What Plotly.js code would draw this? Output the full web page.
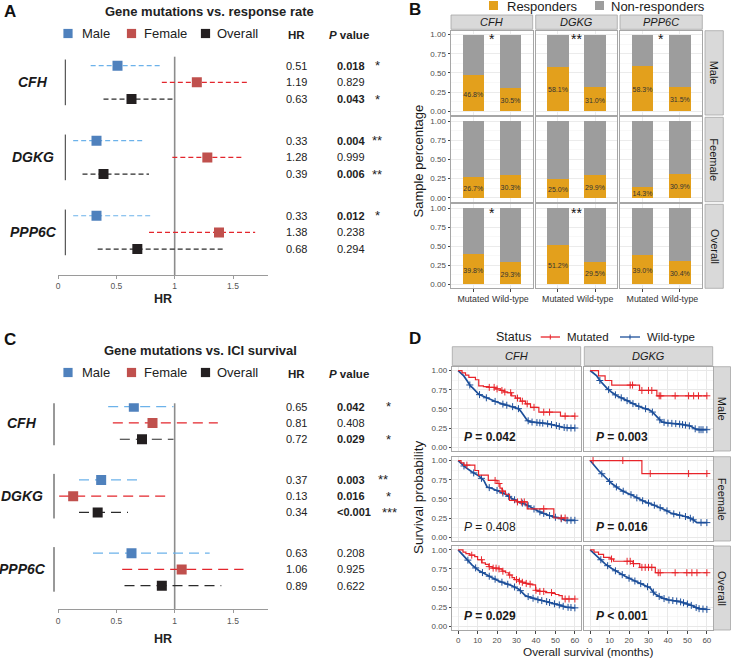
<!DOCTYPE html>
<html><head><meta charset="utf-8">
<script src="https://cdn.plot.ly/plotly-3.0.1.min.js"></script>
<style>html,body{margin:0;padding:0;background:#fff;}#chart{width:731px;height:658px;}</style>
</head><body><div id="chart"></div>
<script>
// ================= DATA =================
const forestGenes = ['CFH', 'DGKG', 'PPP6C'];
const forestGroups = ['Male', 'Female', 'Overall'];

// Panel A: gene mutations vs. response rate (order: CFH M/F/O, DGKG M/F/O, PPP6C M/F/O)
const respHR   = [0.51, 1.19, 0.63, 0.33, 1.28, 0.39, 0.33, 1.38, 0.68];
const respLow  = [0.28, 0.89, 0.39, 0.13, 0.98, 0.21, 0.13, 0.78, 0.34];
const respHigh = [0.89, 1.62, 1.00, 0.74, 1.59, 0.78, 0.81, 1.69, 1.42];
const respP    = ['0.018', '0.829', '0.043', '0.004', '0.999', '0.006', '0.012', '0.238', '0.294'];
const respSig  = ['*', '', '*', '**', '', '**', '*', '', ''];

// Panel C: gene mutations vs. ICI survival
const survHR   = [0.65, 0.81, 0.72, 0.37, 0.13, 0.34, 0.63, 1.06, 0.89];
const survLow  = [0.43, 0.47, 0.53, 0.18, 0.01, 0.18, 0.30, 0.55, 0.57];
const survHigh = [0.99, 1.37, 0.99, 0.68, 0.92, 0.60, 1.30, 1.59, 1.40];
const survP    = ['0.042', '0.408', '0.029', '0.003', '0.016', '<0.001', '0.208', '0.925', '0.622'];
const survSig  = ['*', '', '*', '**', '*', '***', '', '', ''];

// Panel B: responder percentage (Mutated, Wild-type) per gene
const bGenes = ['CFH', 'DGKG', 'PPP6C'];
const bRows = ['Male', 'Feemale', 'Overall'];
const bCats = ['Mutated', 'Wild-type'];
const respPctMale    = [[46.8, 30.5], [58.1, 31.0], [58.3, 31.5]];
const respPctFemale  = [[26.7, 30.3], [25.0, 29.9], [14.3, 30.9]];
const respPctOverall = [[39.8, 29.3], [51.2, 29.5], [39.0, 30.4]];
const bSigMale    = ['*', '**', '*'];
const bSigFemale  = ['', '', ''];
const bSigOverall = ['*', '**', ''];

// Panel D: Kaplan-Meier curves (months, survival probability, censor times)
const cfhMaleMutT = [0, 2, 3.8, 5.5, 8.9, 10.6, 13, 15.8, 19, 21.8, 23.5, 25.2, 27.5, 29.5, 32, 34.6, 37.2, 41.5, 52.6, 60];
const cfhMaleMutS = [1, 0.97, 0.94, 0.91, 0.88, 0.80, 0.79, 0.78, 0.76, 0.74, 0.72, 0.71, 0.67, 0.64, 0.60, 0.565, 0.52, 0.457, 0.405, 0.405];
const cfhMaleMutC = [16, 18.5, 20, 22.5, 24, 27, 30.5, 33, 35.5, 39, 44, 47, 55, 60];
const cfhMaleWtT = [0, 1.5, 2.9, 4.6, 6.3, 7.6, 8.9, 10.6, 12.3, 14, 16.5, 19.2, 22.6, 26, 29.5, 31.2, 32.5, 33.8, 35.5, 37.2, 41, 44.9, 50, 53.5, 56.9, 60];
const cfhMaleWtS = [1, 0.965, 0.93, 0.866, 0.80, 0.77, 0.74, 0.69, 0.67, 0.65, 0.62, 0.595, 0.565, 0.54, 0.52, 0.50, 0.46, 0.41, 0.35, 0.33, 0.32, 0.31, 0.285, 0.26, 0.25, 0.25];
const cfhMaleWtC = [6, 11, 14.5, 19, 23, 25, 28, 31, 36, 38, 40.5, 42, 43.5, 46, 48, 50.5, 52, 54.5, 56, 58, 60];

const dgkgMaleMutT = [0, 4.3, 7.7, 11.1, 25.4, 34.3, 60];
const dgkgMaleMutS = [1, 0.93, 0.87, 0.81, 0.74, 0.67, 0.67];
const dgkgMaleMutC = [20.6, 21.8, 26.6, 30, 31.7, 35.5, 36.3, 43.7, 50.6, 53.2, 55.7, 60];
const dgkgMaleWtT = [0, 3.4, 5.1, 6.9, 8.6, 11.1, 13.7, 17.2, 20.6, 24, 27.4, 30, 31.7, 33.4, 35.2, 36.9, 39.5, 44.6, 48, 51.5, 53.2, 54.9, 60];
const dgkgMaleWtS = [1, 0.93, 0.866, 0.81, 0.77, 0.716, 0.67, 0.63, 0.586, 0.543, 0.51, 0.49, 0.466, 0.42, 0.37, 0.33, 0.315, 0.306, 0.293, 0.276, 0.25, 0.228, 0.228];
const dgkgMaleWtC = [5, 9.5, 13, 16, 19, 22, 25, 28.5, 32, 35.8, 38, 40, 42, 44, 46, 47.5, 49, 51, 54, 56, 57, 58, 60];

const cfhFemaleMutT = [0, 1.5, 2.9, 8.6, 10.5, 15.5, 20, 21.5, 22.5, 24.3, 26.4, 30.3, 35.5, 49.2, 55];
const cfhFemaleMutS = [1, 0.97, 0.94, 0.87, 0.81, 0.74, 0.70, 0.64, 0.60, 0.56, 0.48, 0.46, 0.37, 0.25, 0.25];
const cfhFemaleMutC = [4.5, 19, 21, 22.8, 30.5, 32.5, 34, 44, 53, 55];
const cfhFemaleWtT = [0, 3.8, 7.2, 10.6, 13.2, 14.9, 17.5, 21, 24.3, 27.7, 31.2, 34.6, 38, 41.5, 45, 48.3, 51.8, 55.2, 60];
const cfhFemaleWtS = [1, 0.91, 0.85, 0.80, 0.74, 0.655, 0.635, 0.60, 0.56, 0.505, 0.46, 0.43, 0.38, 0.335, 0.30, 0.27, 0.25, 0.22, 0.22];
const cfhFemaleWtC = [3, 8, 12, 16, 20, 23, 26, 29, 33, 36, 39, 42, 44, 47, 50, 53, 56, 58, 60];

const dgkgFemaleMutT = [0, 26.6, 60];
const dgkgFemaleMutS = [1, 0.83, 0.83];
const dgkgFemaleMutC = [1.5, 16.8, 30.9, 50.6, 60];
const dgkgFemaleWtT = [0, 4.3, 7.7, 11.1, 14.6, 18, 21.4, 24.9, 28.3, 31.7, 35.1, 38.6, 42, 45.4, 48.9, 52.3, 54.9, 60];
const dgkgFemaleWtS = [1, 0.87, 0.785, 0.70, 0.635, 0.585, 0.55, 0.50, 0.46, 0.43, 0.395, 0.355, 0.31, 0.29, 0.27, 0.24, 0.19, 0.19];
const dgkgFemaleWtC = [6, 10, 13.5, 17, 21, 24, 27, 30, 33, 36, 39.5, 43, 46, 49, 51.5, 53, 57, 60];

const cfhAllMutT = [0, 2.5, 4, 6, 8.5, 10, 12.3, 14, 15.8, 17.5, 21, 22.6, 24.3, 26, 27.7, 29, 31.2, 33, 34.6, 36, 38, 39.8, 42, 45, 48.3, 50, 51.8, 53.5, 60];
const cfhAllMutS = [1, 0.97, 0.95, 0.93, 0.91, 0.87, 0.83, 0.81, 0.78, 0.76, 0.75, 0.72, 0.70, 0.67, 0.635, 0.61, 0.59, 0.575, 0.56, 0.55, 0.54, 0.47, 0.455, 0.44, 0.43, 0.415, 0.40, 0.356, 0.356];
const cfhAllMutC = [7, 12, 16, 18, 19.5, 21, 23, 26.5, 30, 31.5, 33, 35, 37, 40, 42, 44, 48, 55, 57, 60];
const cfhAllWtT = [0, 3.8, 7.2, 10.6, 14, 17.5, 21, 24.3, 27.7, 31.2, 33, 34.6, 38, 41.5, 45, 48.3, 51.8, 55.2, 60];
const cfhAllWtS = [1, 0.90, 0.80, 0.73, 0.68, 0.635, 0.59, 0.56, 0.53, 0.485, 0.44, 0.40, 0.37, 0.343, 0.326, 0.30, 0.28, 0.25, 0.24];
const cfhAllWtC = [5, 9, 12.5, 16, 19, 22.5, 25.5, 29, 32, 36, 38.5, 41, 43, 45.5, 47, 49.5, 52, 54, 56.5, 58, 60];

const dgkgAllMutT = [0, 2, 4.3, 6.9, 10.3, 12, 22, 25.5, 33.5, 60];
const dgkgAllMutS = [1, 0.97, 0.94, 0.90, 0.88, 0.85, 0.82, 0.77, 0.70, 0.70];
const dgkgAllMutC = [11, 19, 20.6, 22.3, 26.6, 28.3, 30, 31.7, 35, 36, 43.7, 49.7, 52.3, 54.9, 60];
const dgkgAllWtT = [0, 4.3, 7.7, 11.1, 14.6, 18, 21.4, 24.9, 28.3, 30.9, 32, 33.4, 36.9, 40.3, 45.4, 48.9, 52.3, 55.7, 60];
const dgkgAllWtS = [1, 0.90, 0.815, 0.755, 0.70, 0.655, 0.61, 0.57, 0.53, 0.50, 0.46, 0.42, 0.37, 0.343, 0.326, 0.30, 0.27, 0.23, 0.22];
const dgkgAllWtC = [5.5, 9, 13, 16.5, 20, 23, 26, 29.5, 32.5, 35.5, 38, 40.5, 42.5, 44.5, 46.5, 48, 50, 52, 54.5, 56, 58, 60];

const kmGenes = ['CFH', 'DGKG'];
const kmRows = ['Male', 'Feemale', 'Overall'];
const kmP = [['= 0.042', '= 0.003'], ['= 0.408', '= 0.016'], ['= 0.029', '< 0.001']];

// ================= RENDER =================
const FONT = '"Liberation Sans", Arial, Helvetica, sans-serif';
const W = 731, H = 658;
const px = x => x / W, py = y => 1 - y / H;
const data = [], shapes = [], ann = [];
const layout = {
  width: W, height: H, autosize: false, margin: {l: 0, r: 0, t: 0, b: 0},
  paper_bgcolor: '#ffffff', plot_bgcolor: 'rgba(0,0,0,0)', showlegend: false,
  barmode: 'stack', font: {family: FONT, color: '#1a1a1a'}, shapes: shapes, annotations: ann
};
const esc = s => s.replace(/</g, '&lt;');
function axId(n) { return n === 1 ? ['x', 'y', 'xaxis', 'yaxis'] : ['x' + n, 'y' + n, 'xaxis' + n, 'yaxis' + n]; }
function note(x, y, text, size, o) {
  o = o || {};
  const xr = o.xref || 'paper', yr = o.yref || 'paper';
  ann.push({
    xref: xr, yref: yr, x: xr === 'paper' ? px(x) : x, y: yr === 'paper' ? py(y) : y,
    text: text, showarrow: false, xanchor: o.xa || 'center', yanchor: o.ya || 'middle',
    textangle: o.angle || 0, font: {family: FONT, size: size, color: o.color || '#1a1a1a'}
  });
}
function rect(x0, y0, x1, y1, fill, line) {
  shapes.push({type: 'rect', xref: 'paper', yref: 'paper', x0: px(x0), x1: px(x1), y0: py(y1), y1: py(y0),
    fillcolor: fill, line: {color: line || fill, width: line ? 0.8 : 0}});
}
function pline(x0, y0, x1, y1, color, width) {
  shapes.push({type: 'line', xref: 'paper', yref: 'paper', x0: px(x0), x1: px(x1), y0: py(y0), y1: py(y1),
    line: {color: color, width: width}});
}

// ---------- Forest plots (A, C) ----------
const forestRows = [0, 1, 2, 4.5, 5.5, 6.5, 9, 10, 11];
const sqCol = ['#4f81bd', '#c0504d', '#231f20'];
const ciCol = ['#6cb2ea', '#e3262d', '#2b2b2b'];
function forest(n, P) {
  const [xa, ya, xk, yk] = axId(n);
  layout[xk] = {domain: [px(58), px(268)], range: [0, 1.8], anchor: ya, showline: true, linecolor: '#9a9a9a',
    linewidth: 1, ticks: 'outside', ticklen: 3, tickcolor: '#9a9a9a', tickvals: [0, 0.5, 1, 1.5],
    ticktext: ['0', '0.5', '1', '1.5'], tickfont: {family: FONT, size: 8.5, color: '#555'},
    showgrid: false, zeroline: false, fixedrange: true};
  layout[yk] = {domain: [py(P.bottom), py(P.top)], range: [(P.bottom - P.row0) / P.unit, (P.top - P.row0) / P.unit],
    visible: false, anchor: xa, fixedrange: true, showgrid: false, zeroline: false};
  shapes.push({type: 'line', xref: xa, yref: ya + ' domain', x0: 1, x1: 1, y0: 0, y1: 1,
    line: {color: '#8c8c8c', width: 1.6}, layer: 'below'});
  for (let g = 0; g < 3; g++) {
    const xs = [], ys = [], mx = [], my = [];
    for (let k = 0; k < 3; k++) {
      const i = k * 3 + g;
      xs.push(P.lo[i], P.hi[i], null); ys.push(forestRows[i], forestRows[i], null);
      mx.push(P.hr[i]); my.push(forestRows[i]);
    }
    data.push({type: 'scatter', mode: 'lines', x: xs, y: ys, xaxis: xa, yaxis: ya,
      line: {color: ciCol[g], width: 1.2, dash: P.dash}, hoverinfo: 'skip'});
    data.push({type: 'scatter', mode: 'markers', x: mx, y: my, xaxis: xa, yaxis: ya,
      marker: {symbol: 'square', size: 10, color: sqCol[g]}, hoverinfo: 'skip'});
  }
  forestGenes.forEach((gene, k) => {
    const a = forestRows[k * 3], b = forestRows[k * 3 + 2];
    shapes.push({type: 'line', xref: 'paper', yref: ya, x0: px(P.barX), x1: px(P.barX), y0: a - 0.37, y1: b + 0.37,
      line: {color: '#333', width: 1}});
    note(P.geneX, forestRows[k * 3 + 1], '<b><i>' + gene + '</i></b>', 14, {yref: ya});
  });
  for (let i = 0; i < 9; i++) {
    const y = forestRows[i];
    note(296.5, y, P.hr[i].toFixed(2), 11, {yref: ya, color: '#222'});
    const txt = esc(P.p[i]);
    note(335, y, P.sig[i] ? '<b>' + txt + '</b>' : txt, 11, {yref: ya, xa: 'left', color: '#222'});
    if (P.sig[i]) note(P.starX[P.sig[i].length - 1], y, P.sig[i], 13, {yref: ya, color: '#222'});
  }
  // title, legend, headers
  note(P.titleX, P.titleY, '<b>' + P.title + '</b>', 13, {color: '#222'});
  const ly = P.legY;
  const sqx = [68, 131.5, 205.5], tx = [79.5, 142, 215.5];
  forestGroups.forEach((g, j) => {
    rect(sqx[j] - 4.6, ly - 4.6, sqx[j] + 4.6, ly + 4.6, sqCol[j]);
    note(tx[j], ly, g, 13, {xa: 'left', color: '#222'});
  });
  note(285.5, ly + 1.5, '<b>HR</b>', 11.5, {xa: 'left', color: '#222'});
  note(326.5, ly + 1.5, '<b><i>P</i> value</b>', 11.5, {xa: 'left', color: '#222'});
  note(163, P.axTitleY, '<b>HR</b>', 12.5, {color: '#222'});
  note(P.letterX, P.letterY, '<b>' + P.letter + '</b>', 17, {xa: 'left', color: '#111'});
}
forest(1, {hr: respHR, lo: respLow, hi: respHigh, p: respP, sig: respSig, top: 56.7, bottom: 275,
  row0: 65.7, unit: 16.67, geneX: 33, barX: 65.3, dash: '5px,3px', starX: [377, 377, 378],
  title: 'Gene mutations vs. response rate', titleX: 209, titleY: 11.5, legY: 33.5,
  axTitleY: 298.5, letter: 'A', letterX: 1.5, letterY: 11.5});
forest(2, {hr: survHR, lo: survLow, hi: survHigh, p: survP, sig: survSig, top: 403.3, bottom: 609.3,
  row0: 406.7, unit: 16.27, geneX: 22, barX: 54, dash: '10px,6px', starX: [388, 383, 389.5],
  title: 'Gene mutations vs. ICI survival', titleX: 200, titleY: 350.5, legY: 372.5,
  axTitleY: 638.5, letter: 'C', letterX: 1.5, letterY: 339});

// ---------- Panel B: stacked bars ----------
const orange = '#e3a01c', greyBar = '#9d9d9d';
const bColX = [[451, 532.7], [535.7, 617.3], [620, 702.3]];
const bRowY = [[30.7, 115], [117.3, 201.7], [204.3, 288.3]];
const bVals = [respPctMale, respPctFemale, respPctOverall];
const bSig = [bSigMale, bSigFemale, bSigOverall];
for (let r = 0; r < 3; r++) {
  for (let c = 0; c < 3; c++) {
    const n = 3 + r * 3 + c;
    const [xa, ya, xk, yk] = axId(n);
    layout[xk] = {domain: [px(bColX[c][0]), px(bColX[c][1])], type: 'category', categoryorder: 'array',
      categoryarray: bCats, range: [-0.6, 1.6], anchor: ya, showline: true, mirror: true, linecolor: '#a6a6a6',
      linewidth: 1, showgrid: true, gridcolor: '#ebebeb', gridwidth: 1, zeroline: false,
      showticklabels: r === 2, ticks: r === 2 ? 'outside' : '', ticklen: 2.5, tickcolor: '#444',
      tickfont: {family: FONT, size: 8.8, color: '#333'}, fixedrange: true};
    layout[yk] = {domain: [py(bRowY[r][1]), py(bRowY[r][0])], range: [-0.05, 1.05], anchor: xa,
      showline: true, mirror: true, linecolor: '#a6a6a6', linewidth: 1,
      tickvals: [0, 0.25, 0.5, 0.75, 1], ticktext: ['0.00', '0.25', '0.50', '0.75', '1.00'],
      showticklabels: c === 0, ticks: c === 0 ? 'outside' : '', ticklen: 2.5, tickcolor: '#444',
      tickfont: {family: FONT, size: 8, color: '#4d4d4d'}, showgrid: true, gridcolor: '#ebebeb', gridwidth: 1,
      minor: {dtick: 0.125, tick0: 0, showgrid: true, gridcolor: '#f3f3f3', gridwidth: 0.6},
      zeroline: false, fixedrange: true};
    const v = bVals[r][c];
    data.push({type: 'bar', x: bCats, y: v.map(p => p / 100), xaxis: xa, yaxis: ya, width: 0.58,
      marker: {color: orange, line: {width: 0}}, hoverinfo: 'skip'});
    data.push({type: 'bar', x: bCats, y: v.map(p => 1 - p / 100), xaxis: xa, yaxis: ya, width: 0.58,
      marker: {color: greyBar, line: {width: 0}}, hoverinfo: 'skip'});
    data.push({type: 'scatter', mode: 'text', x: bCats, y: v.map(p => p / 200 - 0.02),
      text: v.map(p => p.toFixed(1) + '%'), textfont: {family: FONT, size: 7, color: '#333'},
      xaxis: xa, yaxis: ya, hoverinfo: 'skip'});
    if (bSig[r][c]) note(0.5, 0.94, bSig[r][c], 14, {xref: xa, yref: ya, color: '#111'});
  }
}
bGenes.forEach((g, c) => {
  rect(bColX[c][0], 15, bColX[c][1], 29.3, '#d9d9d9', '#a6a6a6');
  note((bColX[c][0] + bColX[c][1]) / 2, 22.3, '<i>' + g + '</i>', 11, {color: '#1a1a1a'});
});
bRows.forEach((g, r) => {
  rect(705, bRowY[r][0], 723.3, bRowY[r][1], '#d9d9d9', '#a6a6a6');
  note(714.2, (bRowY[r][0] + bRowY[r][1]) / 2, g, 11, {angle: 90, color: '#1a1a1a'});
});
note(418.5, 161, 'Sample percentage', 13, {angle: -90, color: '#1a1a1a'});
rect(489, 1, 498, 10, orange);
note(505, 6, 'Responders', 13, {xa: 'left', color: '#1a1a1a'});
rect(595, 1, 604, 10, greyBar);
note(608.5, 6, 'Non-responders', 13, {xa: 'left', color: '#1a1a1a'});
note(406.5, 9.5, '<b>B</b>', 17, {xa: 'left', color: '#111'});

// ---------- Panel D: Kaplan-Meier ----------
const redKM = '#e8242a', blueKM = '#1d4f9a';
const kmColX = [[452.3, 580.7], [584.3, 712.7]];
const kmRowY = [[366.7, 451], [456.7, 541], [546, 630]];
const kmCurves = [
  [{mt: cfhMaleMutT, ms: cfhMaleMutS, mc: cfhMaleMutC, wt: cfhMaleWtT, ws: cfhMaleWtS, wc: cfhMaleWtC},
   {mt: dgkgMaleMutT, ms: dgkgMaleMutS, mc: dgkgMaleMutC, wt: dgkgMaleWtT, ws: dgkgMaleWtS, wc: dgkgMaleWtC}],
  [{mt: cfhFemaleMutT, ms: cfhFemaleMutS, mc: cfhFemaleMutC, wt: cfhFemaleWtT, ws: cfhFemaleWtS, wc: cfhFemaleWtC},
   {mt: dgkgFemaleMutT, ms: dgkgFemaleMutS, mc: dgkgFemaleMutC, wt: dgkgFemaleWtT, ws: dgkgFemaleWtS, wc: dgkgFemaleWtC}],
  [{mt: cfhAllMutT, ms: cfhAllMutS, mc: cfhAllMutC, wt: cfhAllWtT, ws: cfhAllWtS, wc: cfhAllWtC},
   {mt: dgkgAllMutT, ms: dgkgAllMutS, mc: dgkgAllMutC, wt: dgkgAllWtT, ws: dgkgAllWtS, wc: dgkgAllWtC}]
];
function stepAt(T, S, t) { let v = S[0]; for (let i = 0; i < T.length; i++) { if (T[i] <= t) v = S[i]; } return v; }
function linAt(T, S, t) {
  for (let i = 1; i < T.length; i++) {
    if (t <= T[i]) { const f = (t - T[i - 1]) / (T[i] - T[i - 1]); return S[i - 1] + f * (S[i] - S[i - 1]); }
  }
  return S[S.length - 1];
}
for (let r = 0; r < 3; r++) {
  for (let c = 0; c < 2; c++) {
    const n = 12 + r * 2 + c;
    const [xa, ya, xk, yk] = axId(n);
    layout[xk] = {domain: [px(kmColX[c][0]), px(kmColX[c][1])], range: [-3, 63], anchor: ya,
      showline: true, mirror: true, linecolor: '#a6a6a6', linewidth: 1,
      tickvals: [0, 10, 20, 30, 40, 50, 60], showticklabels: r === 2, ticks: r === 2 ? 'outside' : '',
      ticklen: 2.5, tickcolor: '#444', tickfont: {family: FONT, size: 8, color: '#4d4d4d'},
      showgrid: true, gridcolor: '#e8e8e8', gridwidth: 1,
      minor: {dtick: 5, tick0: 0, showgrid: true, gridcolor: '#f2f2f2', gridwidth: 0.6},
      zeroline: false, fixedrange: true};
    layout[yk] = {domain: [py(kmRowY[r][1]), py(kmRowY[r][0])], range: [-0.05, 1.05], anchor: xa,
      showline: true, mirror: true, linecolor: '#a6a6a6', linewidth: 1,
      tickvals: [0, 0.25, 0.5, 0.75, 1], ticktext: ['0.00', '0.25', '0.50', '0.75', '1.00'],
      showticklabels: c === 0, ticks: c === 0 ? 'outside' : '', ticklen: 2.5, tickcolor: '#444',
      tickfont: {family: FONT, size: 8, color: '#4d4d4d'}, showgrid: true, gridcolor: '#e8e8e8', gridwidth: 1,
      minor: {dtick: 0.125, tick0: 0, showgrid: true, gridcolor: '#f2f2f2', gridwidth: 0.6},
      zeroline: false, fixedrange: true};
    const K = kmCurves[r][c];
    data.push({type: 'scatter', mode: 'lines', x: K.wt, y: K.ws, xaxis: xa, yaxis: ya,
      line: {color: blueKM, width: 1.7, shape: 'linear'}, hoverinfo: 'skip'});
    data.push({type: 'scatter', mode: 'markers', x: K.wc, y: K.wc.map(t => linAt(K.wt, K.ws, t)), xaxis: xa, yaxis: ya,
      marker: {symbol: 'cross-thin', size: 5, line: {width: 1, color: blueKM}}, hoverinfo: 'skip'});
    data.push({type: 'scatter', mode: 'lines', x: K.mt, y: K.ms, xaxis: xa, yaxis: ya,
      line: {color: redKM, width: 1.2, shape: 'hv'}, hoverinfo: 'skip'});
    data.push({type: 'scatter', mode: 'markers', x: K.mc, y: K.mc.map(t => stepAt(K.mt, K.ms, t)), xaxis: xa, yaxis: ya,
      marker: {symbol: 'cross-thin', size: 5, line: {width: 1, color: redKM}}, hoverinfo: 'skip'});
    const p = esc(kmP[r][c]);
    const bold = !(r === 1 && c === 0);
    const t = bold ? '<b><i>P</i> ' + p + '</b>' : '<i>P</i> ' + p;
    note(2, 0.13, t, 12, {xref: xa, yref: ya, xa: 'left', color: '#1a1a1a'});
  }
}
kmGenes.forEach((g, c) => {
  rect(kmColX[c][0], 346.7, kmColX[c][1], 365.7, '#d9d9d9', '#a6a6a6');
  note((kmColX[c][0] + kmColX[c][1]) / 2, 356.2, '<i>' + g + '</i>', 11, {color: '#1a1a1a'});
});
kmRows.forEach((g, r) => {
  rect(713.5, kmRowY[r][0], 730.5, kmRowY[r][1], '#d9d9d9', '#a6a6a6');
  note(722, (kmRowY[r][0] + kmRowY[r][1]) / 2, g, 11, {angle: 90, color: '#1a1a1a'});
});
note(418.5, 497.5, 'Survival probability', 13.5, {angle: -90, color: '#1a1a1a'});
note(588.5, 652, 'Overall survival (months)', 11.8, {color: '#1a1a1a'});
note(494, 337, 'Status', 12.5, {xa: 'left', color: '#1a1a1a'});
pline(540.7, 337, 560, 337, redKM, 1.3);
pline(550.3, 334.5, 550.3, 339.5, redKM, 1);
note(565, 337, 'Mutated', 11.5, {xa: 'left', color: '#1a1a1a'});
pline(620, 337, 640, 337, blueKM, 1.3);
pline(630, 334.5, 630, 339.5, blueKM, 1);
note(645, 337, 'Wild-type', 11.5, {xa: 'left', color: '#1a1a1a'});
note(406.5, 338, '<b>D</b>', 17, {xa: 'left', color: '#111'});

Plotly.newPlot('chart', data, layout, {staticPlot: true, displayModeBar: false});
</script>
</body></html>
